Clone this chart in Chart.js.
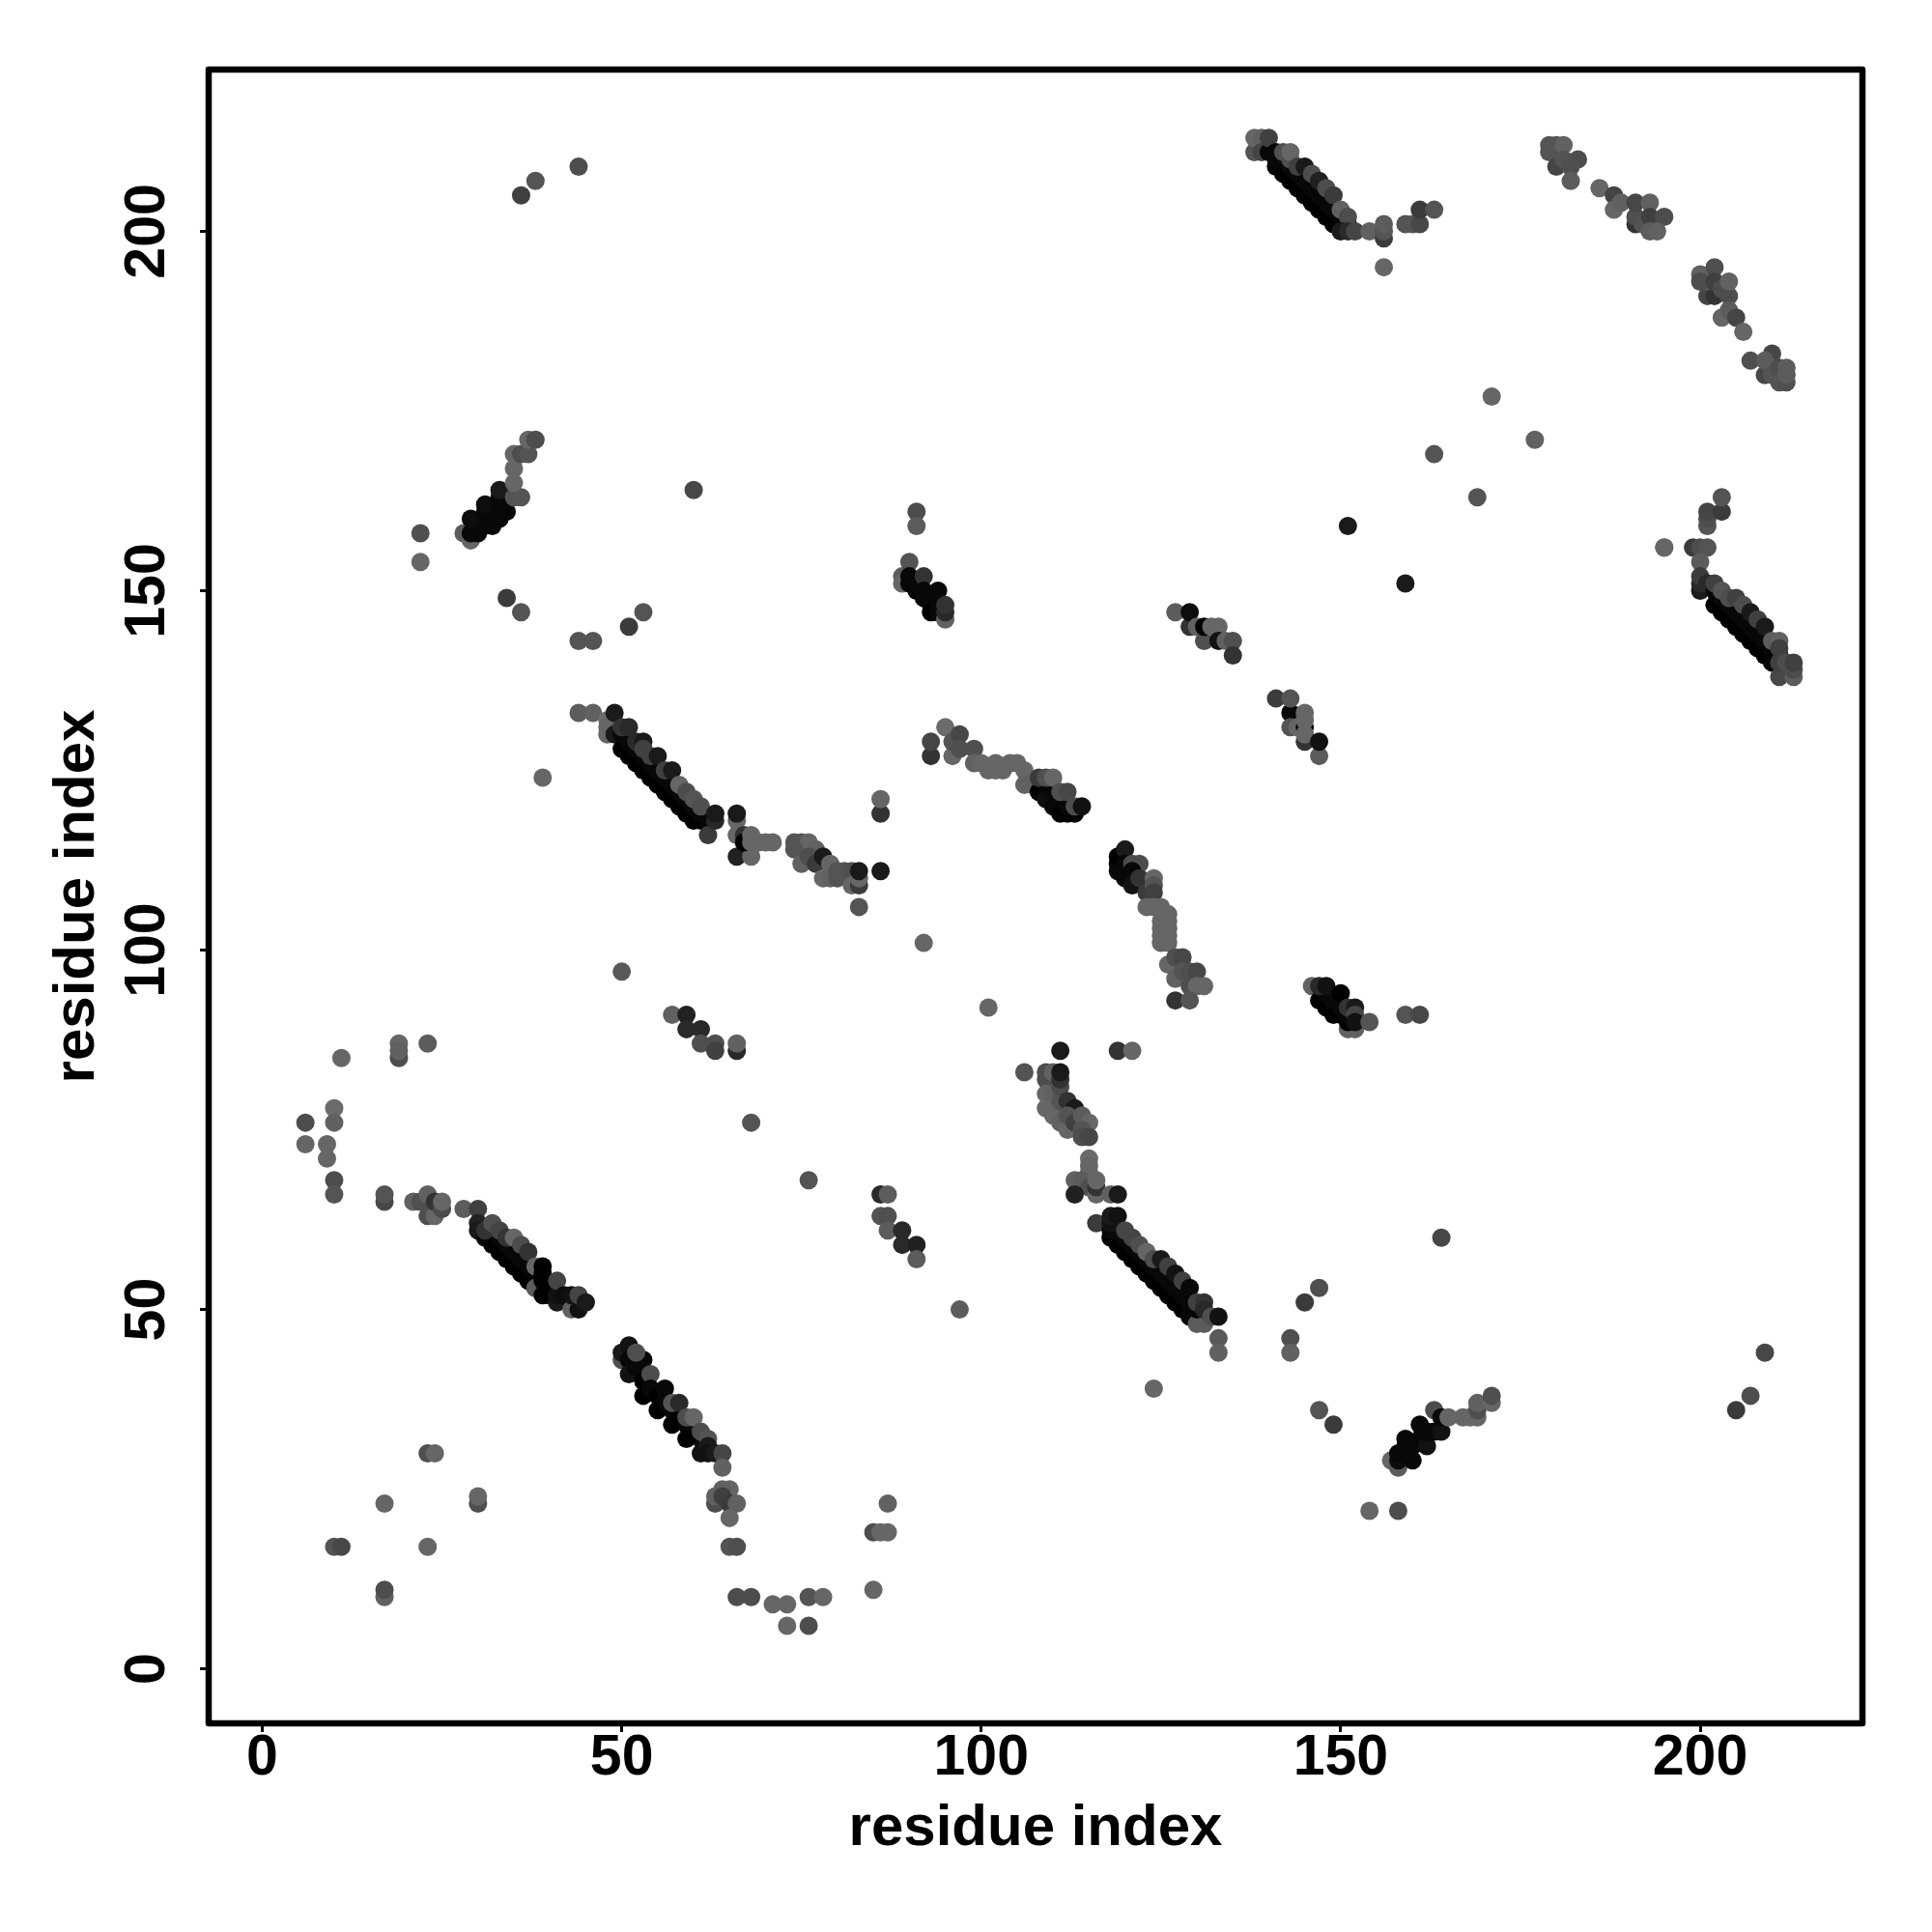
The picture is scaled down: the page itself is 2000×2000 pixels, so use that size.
<!DOCTYPE html>
<html lang="en">
<head>
<meta charset="UTF-8" />
<title>Residue contact map</title>
<style>
  body { margin: 0; background: #fff; }
  #wrap { width: 2000px; height: 2000px; }
</style>
</head>
<body>
<div id="wrap"><canvas id="contactMap"></canvas></div>
<script src="https://cdn.jsdelivr.net/npm/chart.js"></script>
<script>
  // each contact is [residue x, residue y, score], score 0 = strongest (black), 42 = weakest
  const xTicks = [0, 50, 100, 150, 200];
  const yTicks = [0, 50, 100, 150, 200];
  const axisLabel = 'residue index';

  const scattered = [
    [44,209,30],[38,207,33],[36,205,25],[60,164,28],[22,158,31],[22,154,40],[34,149,23],[36,147,33],
    [53,147,33],[51,145,23],[44,143,33],[46,143,33],[39,124,40],[50,97,35],[68,76,33],[76,68,33],
    [92,101,40],[101,92,40],[106,83,33],[97,50,36],[164,60,28],[147,53,31],[145,51,23],[143,46,31],[143,44,38],
    [124,39,40],[147,36,33],[149,34,23],[154,22,40],[158,22,30],[205,36,23],[207,38,31],[209,44,28],
    [171,177,40],[177,171,38],[163,169,33],[169,163,33],[151,159,10],[159,151,10],[195,156,40],
    [111,86,10],[119,86,20],[121,86,40],[159,91,33],[161,91,28],[86,111,10],[86,119,20],[86,121,40],[83,106,33]
  ];
  const leftArc = [
    [11,85,40],[19,87,40],[19,85,30],[19,86,38],[23,87,36],[10,78,42],[10,76,38],[6,76,30],[6,73,40],[9,73,40],[9,71,40],
    [10,68,30],[10,66,33],[17,65,28],[17,66,33],[21,65,38],[22,65,31],[23,66,38],[23,63,31],[24,63,40],[24,65,20],
    [25,64,30],[25,65,40],[28,64,36]
  ];
  const lowerLeft = [
    [23,30,31],[24,30,40],[17,23,40],[30,23,31],[30,24,40],[10,17,33],[11,17,28],[23,17,40],[17,10,38],[17,11,30],
    [65,17,33],[66,17,31],[66,10,30],[68,10,30],[71,9,40],[73,9,40],[76,10,33],[78,10,40],[73,6,40],[76,6,30],
    [85,11,40],[85,19,30],[86,19,40],[87,19,40],[87,23,38]
  ];
  const band30to46 = [
    [30,64,25],[30,62,13],[30,61,10],[31,60,3],[32,59,0],[33,58,0],[34,57,0],[35,56,0],[36,55,0],[37,54,0],[38,53,0],[40,52,3],
    [32,61,3],[33,60,3],[34,59,3],[35,58,3],[36,57,3],[37,56,3],[38,55,3],[39,54,3],[40,53,3],
    [31,61,20],[32,62,31],[33,61,27],[34,60,20],[35,60,40],[36,59,30],[37,58,20],[38,56,40],[38,53,36],
    [39,56,0],[39,55,0],[39,54,0],[39,52,0],[41,51,10],[41,52,7],[41,54,27],[42,52,5],[43,50,38],[44,50,7],[43,52,7],[44,52,27],[45,51,10]
  ];
  const band50to64 = [
    [50,43,31],[50,44,10],[51,45,7],[51,43,3],[51,41,7],[52,42,3],[53,43,3],[52,44,31],[53,40,0],[53,38,0],[54,41,30],
    [54,39,3],[55,38,0],[55,36,0],[56,39,3],[56,37,3],[57,36,3],[57,34,0],[58,35,0],[59,34,3],[60,33,5],[61,32,5],
    [57,37,33],[58,37,16],[59,35,30],[59,32,0],[60,35,40],[61,33,30],[61,30,7],[62,32,33],[62,31,10],[62,30,7],[63,30,10],[64,30,27],
    [64,28,38],[63,23,30],[63,24,38],[65,25,40],[64,25,38],[64,24,25],[65,23,23],[66,23,38],[65,21,40]
  ];
  const band48to63 = [
    [44,133,36],[46,133,38],[48,132,42],[48,131,40],[48,130,40],
    [49,130,10],[50,128,0],[51,127,0],[52,126,0],[53,125,0],[54,124,0],[55,123,0],[56,122,0],[57,121,0],[58,120,0],[59,119,0],[60,118,0],[61,118,0],
    [50,130,3],[51,129,3],[52,128,3],[53,127,3],[54,126,3],[55,125,3],[56,124,3],[57,123,3],[58,122,3],[59,121,3],[60,120,3],[61,119,3],[62,118,3],
    [49,133,10],[50,131,20],[51,131,16],[52,129,16],[53,129,10],[53,128,25],[54,127,25],[55,127,10],[56,125,25],[57,125,10],
    [58,123,40],[59,122,30],[60,121,33],[61,120,31],[62,116,23],[63,118,16],[63,119,10]
  ];
  const run66to83 = [
    [66,118,40],[66,116,40],[66,119,10],[67,116,20],[66,113,13],[68,113,40],[67,115,0],[68,116,40],[68,115,40],[69,115,40],[70,115,40],[71,115,40],
    [74,115,33],[75,115,33],[76,115,40],[74,114,33],[75,112,38],[77,114,38],[76,113,31],[77,112,23],[78,113,10],[78,110,40],
    [79,112,40],[79,110,38],[80,110,33],[80,111,33],[81,111,33],[82,111,31],[82,109,40],[83,109,23],[83,110,40],[83,111,10]
  ];
  const run57to66 = [
    [57,91,38],[59,91,13],[59,89,16],[61,89,16],[61,87,31],[63,87,30],[63,86,25],[66,86,16],[66,87,38]
  ];
  const run86to91 = [
    [86,66,16],[87,66,36],[86,63,33],[87,63,31],[87,61,36],[89,61,16],[89,59,16],[91,59,13],[91,57,36]
  ];
  const cluster29to38 = [
    [28,158,36],[29,157,40],[33,161,38],[31,159,38],
    [29,158,3],[30,158,3],[30,159,3],[29,160,5],[32,159,3],[32,160,3],[31,161,3],[31,162,5],[33,160,3],[34,161,3],[33,162,3],[33,163,3],[33,164,10],
    [35,163,33],[36,163,33],[35,165,40],[35,167,40],[35,169,40],[36,169,30],[37,169,33],[37,171,40],[38,171,30]
  ];
  const cluster89to95 = [
    [89,152,36],[89,151,40],[90,154,33],[90,152,3],[90,151,3],[91,150,0],[91,151,3],[92,152,20],[92,150,3],[92,149,3],[93,149,3],[93,148,3],[93,147,0],
    [94,150,3],[94,148,3],[94,147,3],[95,146,38],[95,147,16],[95,148,20],[91,161,30],[91,159,36]
  ];
  const band93to114 = [
    [93,127,20],[93,129,27],[95,131,42],[96,127,40],[96,129,33],[97,130,28],[97,128,31],[99,128,31],[99,126,38],[100,126,40],
    [101,125,40],[102,126,40],[102,125,40],[103,125,40],[104,126,40],[105,126,40],[106,125,40],[106,123,38],[107,123,38],
    [108,122,0],[109,121,5],[110,120,3],[111,119,0],[112,119,0],[113,119,0],[109,123,3],[110,122,3],[111,121,3],[112,120,3],[108,124,23],[109,124,31],[110,124,40],
    [111,122,31],[112,122,28],[113,120,30],[114,120,7]
  ];
  const run127to135 = [
    [127,147,36],[129,145,20],[129,147,5],[130,145,38],[131,143,31],[131,145,0],[132,145,40],[133,145,40],[133,143,7],[134,143,38],[135,143,31],[135,141,20]
  ];
  const cluster141to147 = [
    [141,135,23],[143,133,3],[143,131,33],[144,131,40],[145,131,3],[145,129,20],[143,135,33],[145,133,40],[145,132,40],[145,130,40],[147,127,36],[147,129,7]
  ];
  const curve119to131 = [
    [119,111,3],[119,112,3],[119,113,0],[120,114,10],[120,112,3],[121,112,30],[122,112,30],[120,110,3],[121,111,3],[121,109,7],[122,110,20],[123,108,23],[124,110,40],[124,109,33],[124,108,25],
    [123,106,40],[124,106,40],[125,106,40],[126,105,40],[125,104,40],[126,104,40],[125,103,40],[126,103,40],[125,102,40],[126,102,40],[125,101,40],[126,101,40],
    [126,98,40],[127,99,31],[128,99,28],[127,96,38],[128,97,33],[129,97,31],[130,97,28],[129,95,31],[130,95,40],[131,95,40],[127,93,20],[129,93,33]
  ];
  const cluster146to154 = [
    [146,95,38],[151,89,38],[152,89,38],[147,93,0],[148,92,0],[149,91,0],[150,91,0],[151,90,0],[149,93,3],[148,94,3],[150,92,3],[151,91,3],
    [147,95,16],[148,95,7],[150,94,0],[151,92,20],[152,92,10],[152,91,27],[152,90,7],[154,90,33]
  ];
  const cluster106to116 = [
    [109,83,31],[109,82,30],[110,83,38],[109,78,40],[109,80,40],[110,80,38],[110,78,40],[110,77,40],[111,79,33],[111,76,38],[111,81,30],[111,82,20],[111,83,10],
    [112,79,20],[113,78,10],[112,75,40],[112,77,33],[113,76,25],[114,77,36],[115,76,40],[114,75,33],[114,74,30],[115,74,28],
    [115,71,42],[115,70,40],[115,69,40],[113,68,38],[114,68,36],[115,67,31],[113,66,13],[116,66,40],[116,67,20],[116,68,40],[118,66,38],[119,66,10]
  ];
  const band116to133 = [
    [116,62,23],[118,60,0],[119,59,0],[120,58,0],[121,57,0],[122,56,0],[123,55,0],[124,54,0],[125,53,0],[126,52,0],[127,51,0],[128,50,0],[129,49,3],[130,48,36],[131,48,36],
    [119,61,3],[120,60,3],[121,59,3],[122,58,3],[123,57,3],[124,56,3],[125,55,3],[126,54,3],[127,53,3],[128,52,3],[129,51,3],[130,50,3],
    [118,61,3],[118,62,7],[118,63,10],[119,63,7],[120,61,27],[121,60,27],[122,59,31],[123,58,40],[124,57,30],[125,57,10],[126,56,25],[127,55,7],[128,54,25],[129,53,3],
    [130,51,25],[131,51,20],[131,50,16],[132,49,31],[133,49,7],[133,46,35]
  ];
  const cluster157to171 = [
    [157,29,40],[158,28,36],[158,29,5],[158,30,3],[159,30,3],[159,31,3],[160,29,3],[160,31,3],[159,32,3],[161,32,3],[162,31,7],[162,33,3],[161,34,3],[163,33,3],[164,33,7],[163,36,30],[164,35,3],
    [165,35,40],[167,35,40],[168,35,40],[169,35,40],[169,36,31],[169,37,38],[171,37,40],[171,38,31]
  ];
  const band138to156 = [
    [138,211,33],[138,213,40],[139,213,38],[139,211,27],[140,211,3],[141,209,0],[142,208,0],[143,207,0],[144,206,0],[145,205,0],[146,204,0],[147,203,0],[148,202,0],[149,201,0],
    [141,210,3],[142,210,3],[143,209,3],[144,208,3],[145,207,3],[146,206,3],[147,205,3],[148,204,3],[149,203,3],[150,202,3],[151,201,3],
    [140,213,25],[141,211,3],[142,211,31],[143,210,30],[143,211,40],[144,209,25],[145,209,10],[146,208,30],[147,207,13],[148,206,30],[149,205,23],[150,203,38],[151,202,30],
    [150,200,10],[151,200,16],[152,200,27],[154,200,38],[156,199,23],[156,200,33],[156,201,36],[156,195,40],
    [159,201,33],[160,201,33],[161,201,28],[161,203,23],[163,203,33]
  ];
  const upperRight = [
    [179,212,33],[179,211,33],[180,212,33],[180,211,33],[181,212,38],[180,209,27],[181,210,33],[183,210,30],[182,209,31],[182,207,36],
    [186,206,40],[188,205,27],[188,203,40],[189,204,38],[191,201,20],[191,202,31],[191,204,28],[192,201,33],[193,204,38],[193,202,25],[195,202,30],[193,200,36],[194,200,38],
    [201,191,27],[202,191,20],[201,193,33],[200,194,38],[200,193,30],[202,195,31],[202,193,25],[203,192,30],[204,191,30],[204,193,38],[203,188,40],[204,189,36],[205,188,27],[206,186,40],
    [207,182,31],[210,183,28],[209,180,28],[209,182,36],[210,181,36],[210,180,33],[211,181,30],[211,179,33],[212,179,31],[212,180,36],[212,181,36]
  ];
  const band199to213 = [
    [195,156,40],[199,156,23],[200,156,30],[201,156,33],[200,154,36],[201,159,33],[201,160,30],[201,161,27],[203,161,23],[203,163,33],
    [200,150,10],[200,151,16],[200,152,23],[201,151,16],
    [202,148,0],[203,147,0],[204,146,0],[205,145,0],[206,144,0],[207,143,0],[208,142,0],[209,141,0],[210,140,3],
    [202,150,3],[203,149,3],[204,148,3],[205,147,3],[206,146,3],[207,145,3],[208,144,3],[209,143,3],[210,142,3],[211,141,3],
    [202,151,25],[203,150,33],[204,149,30],[205,149,25],[206,148,30],[207,147,10],[208,146,25],[209,145,10],[210,143,36],[211,143,38],[211,142,25],
    [211,138,28],[211,140,25],[212,140,30],[213,138,36],[213,139,30],[213,140,25]
  ];
  const lowerMid = [
    [133,44,38]
  ];

  const contacts = [].concat(scattered, leftArc, lowerLeft, band30to46, band50to64, band48to63, run66to83, run57to66, run86to91,
    cluster29to38, cluster89to95, band93to114, run127to135, cluster141to147, curve119to131, cluster146to154, cluster106to116,
    band116to133, lowerMid, cluster157to171, band138to156, upperRight, band199to213);

  const fontFamily = "'Liberation Sans', Arial, sans-serif";
  const tickFont = { family: fontFamily, size: 59, weight: 'bold' };
  const titleFont = { family: fontFamily, size: 60, weight: 'bold' };

  // frame around the plot area, Chart.js only draws one border per axis
  const framePlugin = {
    id: 'frame',
    afterDraw(chart) {
      const a = chart.chartArea;
      const c = chart.ctx;
      c.save();
      c.lineWidth = 6.5;
      c.strokeStyle = '#000';
      c.lineJoin = 'round';
      c.strokeRect(a.left, a.top, a.right - a.left, a.bottom - a.top);
      c.restore();
    }
  };

  function greyOf(score) {
    const g = Math.round(score * 2.55);
    return 'rgb(' + g + ',' + g + ',' + g + ')';
  }

  const contactChart = new Chart(document.getElementById('contactMap'), {
    type: 'scatter',
    data: {
      datasets: [{
        data: contacts.map(p => ({ x: p[0], y: p[1], score: p[2] })),
        backgroundColor: ctx => greyOf(ctx.raw ? ctx.raw.score : 0),
        borderWidth: 0,
        pointRadius: 9.5,
        pointHoverRadius: 9.5
      }]
    },
    options: {
      responsive: true,
      maintainAspectRatio: false,
      animation: false,
      devicePixelRatio: 1,
      layout: { padding: { top: 72, right: 72, left: 0, bottom: 0 } },
      plugins: { legend: { display: false }, tooltip: { enabled: false } },
      scales: {
        x: {
          type: 'linear',
          min: -7.46,
          max: 222.57,
          afterBuildTicks: s => { s.ticks = xTicks.map(v => ({ value: v })); },
          afterFit: s => { s.height = 216; },
          grid: { display: true, drawOnChartArea: false, drawTicks: true, color: '#000', lineWidth: 3, tickLength: 9 },
          border: { display: false },
          ticks: { color: '#000', font: tickFont, padding: -8, maxRotation: 0, autoSkip: false },
          title: { display: true, text: axisLabel, color: '#000', font: titleFont, padding: { top: 0, bottom: 71 } }
        },
        y: {
          type: 'linear',
          min: -7.57,
          max: 222.5,
          afterBuildTicks: s => { s.ticks = yTicks.map(v => ({ value: v })); },
          afterFit: s => { s.width = 216; },
          grid: { display: true, drawOnChartArea: false, drawTicks: true, color: '#000', lineWidth: 3, tickLength: 9 },
          border: { display: false },
          ticks: { color: '#000', font: tickFont, padding: 4, minRotation: 90, maxRotation: 90, crossAlign: 'center', autoSkip: false },
          title: { display: true, text: axisLabel, color: '#000', font: titleFont, padding: { top: 44, bottom: 0 } }
        }
      }
    },
    plugins: [framePlugin]
  });
</script>
</body>
</html>
